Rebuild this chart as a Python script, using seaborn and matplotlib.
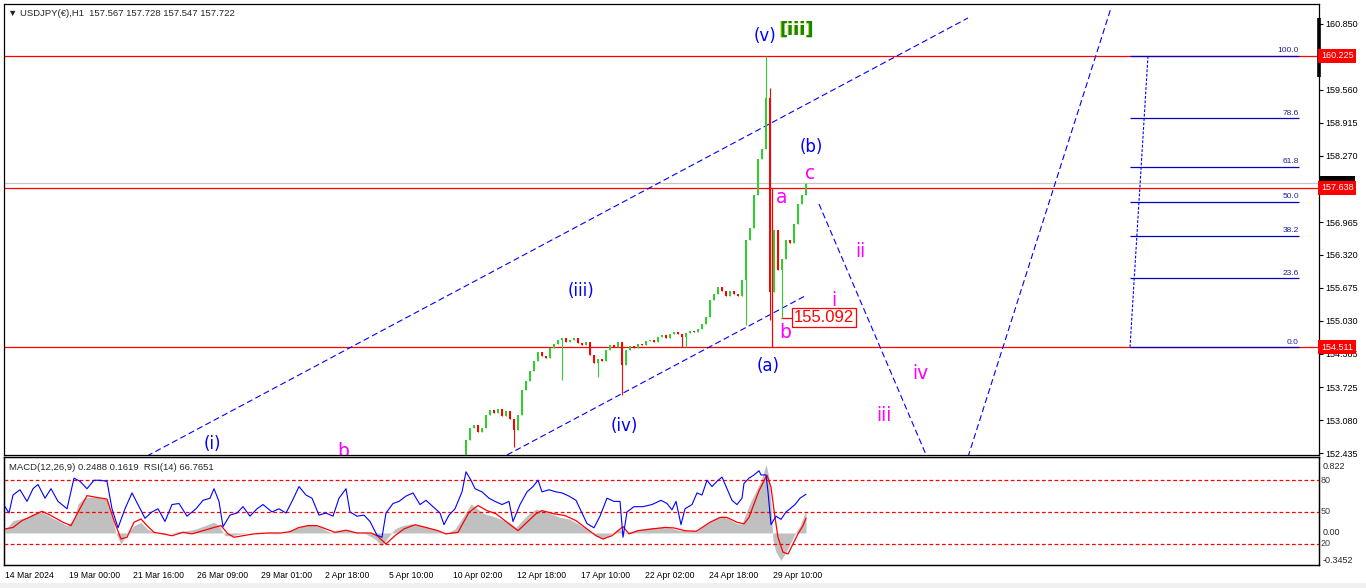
import numpy as np
import pandas as pd
import seaborn as sns
import matplotlib
matplotlib.use('Agg')
import matplotlib.pyplot as plt
from matplotlib import transforms
from matplotlib.patches import Rectangle

# ---- data (bar index = hours since 14 Mar 2024 00:00, weekends skipped) ----
x_ticks = [0, 64, 128, 192, 256, 320, 384, 448, 512, 576, 640, 704, 768]
x_labels = ['14 Mar 2024', '19 Mar 00:00', '21 Mar 16:00', '26 Mar 09:00', '29 Mar 01:00',
            '2 Apr 18:00', '5 Apr 10:00', '10 Apr 02:00', '12 Apr 18:00', '17 Apr 10:00',
            '22 Apr 02:00', '24 Apr 18:00', '29 Apr 10:00']

price_ticks = [160.850, 159.560, 158.915, 158.270, 156.965, 156.320, 155.675,
               155.030, 154.385, 153.725, 153.080, 152.435]

# 4-hour candles, first one at bar 457
first_bar = 457
bar_step = 4
first_open = 151.90
closes = [152.10, 152.69, 152.93, 152.98, 152.85, 152.93, 153.18, 153.28, 153.22, 153.30,
          153.16, 153.26, 153.10, 152.89, 153.18, 153.67, 153.85, 154.04, 154.24, 154.42,
          154.34, 154.30, 154.49, 154.58, 154.66, 154.70, 154.62, 154.66, 154.70, 154.60,
          154.56, 154.62, 154.36, 154.20, 154.28, 154.24, 154.46, 154.56, 154.52, 154.62,
          154.16, 154.46, 154.54, 154.50, 154.58, 154.55, 154.63, 154.66, 154.62, 154.71,
          154.74, 154.70, 154.76, 154.80, 154.76, 154.72, 154.79, 154.83, 154.80, 154.87,
          154.96, 155.10, 155.44, 155.56, 155.70, 155.62, 155.52, 155.62, 155.56, 155.52,
          155.83, 156.61, 156.85, 157.50, 158.20, 158.40, 159.40, 155.60, 156.80, 156.02,
          156.25, 156.62, 156.55, 156.92, 157.32, 157.50, 157.72]
spike_low = {509: 152.55, 557: 153.87, 593: 153.93, 617: 153.57, 677: 154.51,
             681: 154.51, 741: 154.95, 765: 155.04, 777: 155.092}
spike_high = {761: 160.225, 765: 159.60, 801: 157.728}

level_high = 160.225
level_mid = 157.638
level_low = 154.511
bid_price = 157.722
b_low = 155.092
fib_levels = [0.0, 23.6, 38.2, 50.0, 61.8, 78.6, 100.0]

rsi_bar = [0, 4, 8, 15, 22, 28, 33, 40, 46, 53, 62, 69, 75, 82, 89, 95, 102, 107, 113, 120,
           127, 133, 140, 147, 153, 160, 167, 174, 182, 191, 198, 205, 209, 214, 218, 225, 232, 238, 245, 252,
           258, 267, 274, 281, 287, 294, 301, 307, 314, 321, 328, 334, 341, 345, 352, 359, 365, 372, 377, 381,
           388, 394, 401, 408, 415, 421, 428, 435, 439, 444, 450, 457, 461, 466, 470, 477, 484, 490, 497, 504,
           508, 515, 522, 528, 533, 537, 544, 551, 557, 564, 571, 575, 582, 589, 595, 602, 609, 615, 618, 622,
           629, 638, 647, 656, 662, 667, 671, 676, 680, 687, 692, 697, 702, 707, 712, 717, 722, 727, 732, 737,
           739, 744, 749, 754, 756, 761, 763, 766, 771, 776, 781, 785, 790, 795, 801]
rsi_val = [55, 49, 66, 71, 60, 72, 76, 63, 72, 60, 53, 82, 79, 72, 80, 80, 79, 53, 35, 53,
           68, 57, 44, 50, 53, 41, 57, 58, 46, 53, 61, 63, 72, 60, 36, 47, 49, 55, 46, 53,
           57, 50, 53, 49, 60, 74, 66, 63, 47, 49, 46, 63, 72, 50, 46, 47, 41, 28, 26, 49,
           58, 60, 65, 68, 57, 61, 55, 49, 38, 47, 53, 69, 88, 80, 72, 69, 63, 60, 57, 60,
           41, 57, 69, 74, 80, 69, 71, 69, 68, 65, 61, 53, 39, 35, 46, 63, 60, 60, 26, 50,
           55, 55, 57, 61, 58, 52, 60, 38, 53, 57, 68, 66, 80, 74, 79, 83, 72, 61, 57, 63,
           77, 82, 85, 89, 85, 85, 69, 38, 46, 43, 50, 53, 57, 63, 66.77]

hist_bar = [0, 4, 8, 15, 22, 28, 35, 40, 46, 53, 62, 69, 73, 80, 87, 93, 102, 107, 111, 116,
            122, 129, 136, 142, 149, 156, 165, 174, 183, 191, 200, 209, 214, 220, 227, 236, 245, 254, 263, 272,
            281, 290, 299, 308, 316, 325, 334, 343, 352, 361, 370, 377, 383, 390, 397, 406, 415, 424, 433, 441,
            450, 459, 466, 473, 479, 486, 495, 504, 511, 517, 524, 531, 537, 546, 555, 564, 573, 582, 591, 598,
            604, 613, 620, 629, 638, 647, 656, 665, 674, 682, 691, 695, 702, 710, 717, 724, 732, 737, 742, 746,
            751, 756, 761, 764, 766, 768, 771, 776, 781, 786, 790, 795, 801]
hist_val = [0.044, 0.08, 0.135, 0.153, 0.17, 0.21, 0.226, 0.21, 0.17, 0.135,
            0.08, 0.153, 0.317, 0.39, 0.39, 0.39, 0.37, 0.21, -0.01, -0.12,
            -0.01, 0.08, 0.117, 0.044, 0.007, -0.01, 0.0, 0.015, 0.025, 0.044,
            0.08, 0.117, 0.08, -0.03, -0.03, -0.01, 0.0, 0.0, -0.005, -0.01,
            0.007, 0.044, 0.08, 0.09, 0.06, 0.007, 0.025, 0.03, 0.007, -0.01,
            -0.066, -0.14, -0.047, 0.044, 0.08, 0.1, 0.08, 0.055, 0.025, -0.01,
            0.044, 0.19, 0.317, 0.26, 0.21, 0.19, 0.153, 0.117, 0.06, 0.135,
            0.21, 0.26, 0.244, 0.21, 0.17, 0.153, 0.1, 0.044, -0.03, -0.066,
            -0.03, 0.044, 0.007, 0.025, 0.044, 0.06, 0.06, 0.055, 0.03, 0.025,
            0.018, 0.044, 0.1, 0.153, 0.19, 0.153, 0.1, 0.1, 0.244, 0.35,
            0.46, 0.57, 0.75, 0.61, 0.317, -0.084, -0.21, -0.30, -0.21, -0.1,
            -0.01, 0.08, 0.2488]

sig_bar = [0, 8, 17, 28, 37, 46, 58, 66, 73, 82, 91, 102, 109, 116, 122, 129, 136, 142, 149, 158,
           167, 178, 187, 198, 209, 216, 223, 229, 238, 249, 263, 276, 285, 294, 303, 312, 321, 330, 341, 352,
           366, 372, 381, 390, 399, 410, 421, 433, 441, 453, 464, 473, 482, 491, 502, 513, 522, 531, 537, 549,
           560, 571, 582, 591, 598, 607, 618, 624, 633, 647, 660, 669, 680, 691, 695, 705, 715, 722, 732, 739,
           744, 749, 754, 759, 762, 766, 770, 773, 778, 783, 788, 793, 798, 801]
sig_val = [0.044, 0.06, 0.135, 0.19, 0.237, 0.19, 0.117, 0.08, 0.226, 0.408,
           0.39, 0.37, 0.135, -0.066, -0.047, 0.117, 0.153, 0.08, 0.007, -0.01,
           -0.03, 0.007, -0.01, 0.025, 0.06, 0.08, -0.01, -0.047, -0.03, -0.01,
           0.0, 0.0, 0.015, 0.06, 0.08, 0.08, 0.044, 0.007, 0.03, 0.0,
           0.0, -0.03, -0.12, -0.03, 0.044, 0.09, 0.06, 0.025, -0.01, 0.007,
           0.226, 0.3, 0.244, 0.21, 0.117, 0.025, 0.117, 0.21, 0.244, 0.21,
           0.19, 0.135, 0.044, -0.03, -0.066, -0.03, 0.07, -0.01, 0.025, 0.044,
           0.06, 0.055, 0.025, 0.018, 0.044, 0.117, 0.17, 0.17, 0.117, 0.1,
           0.17, 0.317, 0.46, 0.57, 0.63, 0.5, 0.17, -0.047, -0.21, -0.23,
           -0.12, -0.01, 0.08, 0.1619]

# trend lines drawn on the chart (bar, price) -> (bar, price)
channel_lines = [((142, 152.376), (963, 160.968)), ((502, 152.396), (800, 155.515))]
forecast_lines = [((814, 157.319), (922, 152.357)), ((963, 152.357), (1106, 161.164))]
fib_start, fib_end = (1125, level_low), (1143, level_high)
fib_right = 1294

GREEN = '#32cd32'
RED = '#ff0000'
BLUE = '#0000ff'
PINK = '#ff00ff'

sns.set_style('white')
plt.rcParams['font.family'] = ['Liberation Sans', 'DejaVu Sans']

W, H = 1366, 588
fig = plt.figure(figsize=(W / 100, H / 100), dpi=100)
ax = fig.add_axes([4 / W, 1 - 455 / H, 1315 / W, 451 / H])
axm = fig.add_axes([4 / W, 1 - 565 / H, 1315 / W, 108 / H])
axr = axm.twinx()

for a in (ax, axm, axr):
    a.set_xlim(-1, 1314)
    for s in a.spines.values():
        s.set_color('black')
        s.set_linewidth(0.9)
ax.set_ylim(152.396, 161.242)
axm.set_ylim(-0.35, 0.83)
axr.set_ylim(-0.2, 102)

# ---- candles ----
c = np.array(closes)
o = np.r_[first_open, c[:-1]]
bars = first_bar + bar_step * np.arange(len(c))
hi = np.maximum(o, c)
lo = np.minimum(o, c)
for i, b in enumerate(bars):
    if b in spike_low:
        lo[i] = spike_low[b]
    if b in spike_high:
        hi[i] = spike_high[b]
cols = np.where(c >= o, GREEN, RED)
ax.vlines(bars, lo, hi, colors=cols, lw=0.8, zorder=3)
ax.bar(bars, np.maximum(np.abs(c - o), 0.02), bottom=np.minimum(o, c), width=2.6,
       color=cols, linewidth=0, zorder=3)

# ---- horizontal levels ----
for lv in (level_high, level_mid, level_low):
    ax.axhline(lv, color=RED, lw=0.9, zorder=2)
ax.axhline(bid_price, color='#c8c8c8', lw=0.9, zorder=1)
ax.vlines(767, level_low, level_mid, color=RED, lw=0.9, zorder=2)
ax.hlines(b_low, 776, 789, color=RED, lw=0.9, zorder=2)
ax.text(789, b_low, f'{b_low:.3f}', color=RED, fontsize=12, va='center', ha='left',
        bbox=dict(boxstyle='square,pad=0.12', fc='white', ec=RED, lw=0.9), zorder=6)

# ---- trend lines ----
for (x0, y0), (x1, y1) in channel_lines + forecast_lines:
    ax.plot([x0, x1], [y0, y1], color=BLUE, lw=0.8, ls=(0, (5.5, 3)), zorder=2)

ax.plot([fib_start[0], fib_end[0]], [fib_start[1], fib_end[1]], color=BLUE, lw=0.8,
        ls=(0, (2.5, 1.5)), zorder=2)
span = level_high - level_low
for f in fib_levels:
    p = level_low + span * f / 100
    ax.hlines(p, fib_start[0], fib_right, color='#0000c0', lw=0.9, zorder=3)
    ax.annotate(f'{f:.1f}', (fib_right, p), xytext=(0, 1.2), textcoords='offset points',
                ha='right', va='bottom', fontsize=6, color='#2020a0')

# ---- wave labels ----
blue_labels = [('(i)', 207, 152.61), ('(iii)', 576, 155.61), ('(iv)', 619, 152.96),
               ('(a)', 763, 154.14), ('(v)', 760, 160.615), ('(b)', 806, 158.437)]
pink_labels = [('b', 338, 152.474), ('a', 777, 157.437), ('b', 780, 154.789),
               ('c', 805, 157.908), ('i', 829, 155.417), ('ii', 855, 156.378),
               ('iii', 879, 153.18), ('iv', 915, 154.004)]
for t, xb, yp in blue_labels:
    ax.text(xb, yp, t, color=BLUE, fontsize=12, ha='center', va='center',
            family='DejaVu Sans', clip_on=True, zorder=5)
for t, xb, yp in pink_labels:
    ax.text(xb, yp, t, color=PINK, fontsize=13.5, ha='center', va='center',
            family='DejaVu Sans', clip_on=True, zorder=5)
shadow = transforms.offset_copy(ax.transData, fig=fig, x=-0.9, y=0.3, units='dots')
ax.text(792, 160.732, '[iii]', color='#f0c000', fontsize=13, fontweight='semibold',
        ha='center', va='center', family='DejaVu Sans', transform=shadow, zorder=5)
ax.text(792, 160.732, '[iii]', color='#0a8a0a', fontsize=13, fontweight='semibold',
        ha='center', va='center', family='DejaVu Sans', zorder=6)

# ---- price axis ----
ax.yaxis.tick_right()
ax.set_yticks(price_ticks)
ax.set_yticklabels([f'{p:.3f}' for p in price_ticks], fontsize=6.5)
ax.tick_params(axis='y', direction='out', length=3, width=0.8, pad=1.5, colors='black')
ax.tick_params(axis='x', bottom=False, labelbottom=False)
blend = transforms.blended_transform_factory(ax.transAxes, ax.transData)
# current bid marker, mostly hidden under the 157.638 tag as in the terminal
ax.add_patch(Rectangle((1.0008, bid_price - 0.02), 0.0265, 0.17, transform=blend,
                       color='black', lw=0, clip_on=False, zorder=9))
for lv in (level_high, level_mid, level_low):
    ax.text(1.0015, lv, f'{lv:.3f}', transform=blend, color='white', fontsize=6.5,
            va='center', ha='left', bbox=dict(boxstyle='square,pad=0.3', fc=RED, ec='none'),
            clip_on=False, zorder=10)
ax.plot([1.0, 1.0], [160.968, 159.81], transform=blend, color='black', lw=2.6,
        solid_capstyle='butt', clip_on=False, zorder=8)

ax.text(0.003, 0.98, '\u25bc USDJPY(\u20ac),H1  157.567 157.728 157.547 157.722',
        transform=ax.transAxes, fontsize=6.8, va='center', ha='left')

# ---- MACD + RSI pane ----
axm.fill_between(hist_bar, 0, hist_val, color='#c0c0c0', lw=0, zorder=1)
sns.lineplot(x=sig_bar, y=sig_val, ax=axm, color=RED, lw=0.9, sort=False, estimator=None, zorder=2)
for lv in (80, 50, 20):
    axr.axhline(lv, color=RED, lw=0.9, ls=(0, (3, 2)))
sns.lineplot(x=rsi_bar, y=rsi_val, ax=axr, color=BLUE, lw=0.8, sort=False, estimator=None)

axm.set_yticks([])
axr.set_yticks([])
axm.set_ylabel('')
axr.set_ylabel('')
axm.set_xticks(x_ticks)
axm.set_xticklabels(x_labels, ha='left', fontsize=6.2)
axm.tick_params(axis='x', direction='out', length=3, width=0.8, pad=1.5, colors='black')

mblend = transforms.blended_transform_factory(axm.transAxes, axm.transData)
rblend = transforms.blended_transform_factory(axr.transAxes, axr.transData)
down = transforms.ScaledTranslation(0, -4 / 100, fig.dpi_scale_trans)
axm.text(1.003, 0.822, '0.822', transform=mblend + down, fontsize=6.5, va='top', ha='left')
axm.text(1.003, 0.0, '0.00', transform=mblend, fontsize=6.5, va='center', ha='left')
axm.text(1.003, -0.3452, '-0.3452', transform=mblend, fontsize=6.5, va='bottom', ha='left')
for lv in (80, 50, 20):
    axr.text(1.001, lv, str(lv), transform=rblend, fontsize=6.5, va='center', ha='left',
             color='#404040')
axr.text(0.004, 0.9, 'MACD(12,26,9) 0.2488 0.1619  RSI(14) 66.7651', transform=axr.transAxes,
         fontsize=6.8, va='center', ha='left')

fig.add_artist(Rectangle((0, 0), 1, 5 / H, transform=fig.transFigure, color='#f0f0f0', lw=0))

fig.savefig('out.png', dpi=100)
